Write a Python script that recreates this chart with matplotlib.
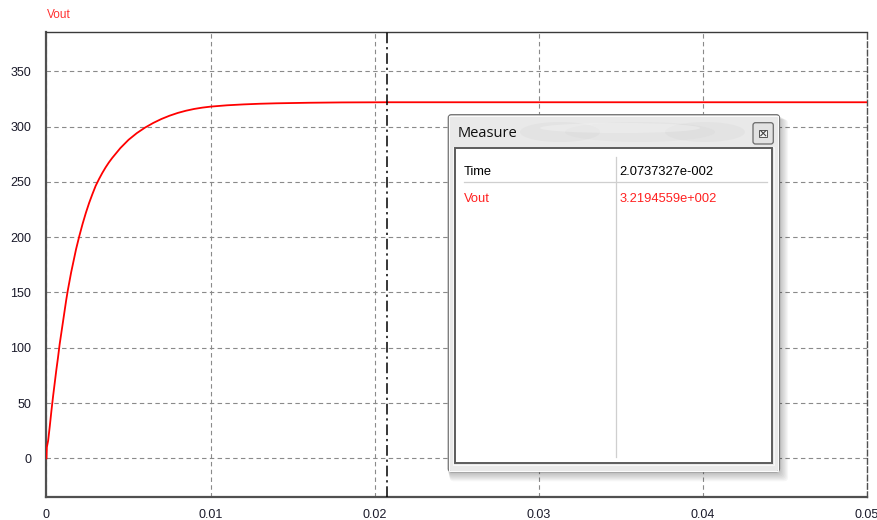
import numpy as np
import matplotlib
matplotlib.use("Agg")
import matplotlib.pyplot as plt
from matplotlib.patches import Rectangle, FancyBboxPatch, Ellipse

plt.rcParams['font.family'] = ['Liberation Sans', 'DejaVu Sans']

# Simulated output voltage (time in s, voltage in V)
time_s = [0.0, 0.00002, 0.0001, 0.0002, 0.0003, 0.0004, 0.0005, 0.0006, 0.0007,
          0.0008, 0.0009, 0.001, 0.0011, 0.0012, 0.0013, 0.0014, 0.0015,
          0.0016, 0.0017, 0.0018, 0.0019, 0.002, 0.0022, 0.0024, 0.0026,
          0.0028, 0.003, 0.0032, 0.0034, 0.0036, 0.0038, 0.004, 0.0045,
          0.005, 0.0055, 0.006, 0.0065, 0.007, 0.0075, 0.008, 0.0085,
          0.009, 0.0095, 0.01, 0.011, 0.012, 0.013, 0.014, 0.016,
          0.018, 0.02, 0.0207, 0.03, 0.04, 0.05]
vout = [0.0, 10.0, 16.0, 29.0, 43.0, 56.0, 68.0, 80.0, 91.0,
        103.0, 113.0, 123.0, 133.0, 143.0, 152.0, 160.0, 168.0,
        175.0, 182.0, 189.0, 195.0, 201.0, 212.0, 222.0, 231.0,
        239.0, 246.5, 252.5, 258.0, 263.0, 267.5, 271.5, 280.5,
        288.0, 294.0, 299.0, 303.2, 306.8, 309.8, 312.3, 314.3,
        315.9, 317.1, 318.0, 319.2, 320.0, 320.6, 321.0, 321.5,
        321.8, 321.9, 321.95, 321.95, 321.95, 321.95]

x_ticks = [0.0, 0.01, 0.02, 0.03, 0.04, 0.05]
x_tick_labels = ["0", "0.01", "0.02", "0.03", "0.04", "0.05"]
y_ticks = [0, 50, 100, 150, 200, 250, 300, 350]
y_tick_labels = ["0", "50", "100", "150", "200", "250", "300", "350"]

cursor_time = 2.0737327e-002
cursor_vout = 3.2194559e+002
measure_rows = [("Time", "2.0737327e-002", "black"),
                ("Vout", "3.2194559e+002", "#ff2020")]

W, H = 878, 520
fig = plt.figure(figsize=(W / 100, H / 100), dpi=100)
fig.patch.set_facecolor("white")

# plot area in pixels
L, T, R, B = 46.5, 32.3, 867.0, 496.7
ax = fig.add_axes([L / W, 1 - B / H, (R - L) / W, (B - T) / H])
ax.plot(time_s, vout, color="#ff0000", lw=1.3, zorder=3)
ax.axvline(cursor_time, color="black", lw=1.1, ls=(0, (7, 2.5, 1.5, 2.5)), zorder=4)

ax.set_xlim(0, 0.05)
ax.set_ylim(-34.7, 385.2)
ax.set_xticks(x_ticks)
ax.set_xticklabels(x_tick_labels)
ax.set_yticks(y_ticks)
ax.set_yticklabels(y_tick_labels)
ax.tick_params(length=0, labelsize=9, colors="#1a1a2a")
ax.tick_params(axis="x", pad=9.0)
ax.tick_params(axis="y", pad=11)
ax.grid(True, color="#8a8a8a", lw=0.8, ls=(0, (4, 3)))
for side in ("left", "bottom"):
    ax.spines[side].set_color("#505050")
    ax.spines[side].set_linewidth(1.6)
ax.spines["top"].set_color("#3a3a3a")
ax.spines["top"].set_linewidth(1.0)
ax.spines["right"].set_color("#505050")
ax.spines["right"].set_linewidth(1.0)
ax.spines["right"].set_linestyle((0, (4, 2)))

fig.text(L / W, 1 - 15 / H, "Vout", color="#ff3030", fontsize=8.5,
         ha="left", va="center")

# Measure dialog, drawn in pixel coordinates
dx0, dy0, dx1, dy1 = 436, 104, 796, 484
dax = fig.add_axes([dx0 / W, 1 - dy1 / H, (dx1 - dx0) / W, (dy1 - dy0) / H], zorder=10)
dax.set_xlim(dx0, dx1)
dax.set_ylim(dy1, dy0)
dax.axis("off")
dax.patch.set_alpha(0)

fx0, fy0, fx1, fy1 = 448.3, 114.7, 779.5, 471.7
# soft drop shadow
for k in range(1, 9):
    dax.add_patch(FancyBboxPatch((fx0 - 1 + k * 0.3, fy0 + k * 0.6),
                                 fx1 - fx0 + k * 0.9, fy1 - fy0 + k * 0.6,
                                 boxstyle="round,pad=0,rounding_size=4",
                                 facecolor="black", edgecolor="none",
                                 alpha=0.035, zorder=1))
# outer frame
dax.add_patch(FancyBboxPatch((fx0, fy0), fx1 - fx0, fy1 - fy0,
                             boxstyle="round,pad=0,rounding_size=3",
                             facecolor="#e9e9e9", edgecolor="#707070",
                             lw=0.9, zorder=2))
dax.add_patch(Rectangle((fx0 + 1.2, fy0 + 1.2), fx1 - fx0 - 2.4, fy1 - fy0 - 2.4,
                        facecolor="none", edgecolor="#fbfbfb", lw=0.8, zorder=3))
# hazy title bar glass
for cx, w, a in [(560, 80, 0.18), (640, 150, 0.14), (705, 80, 0.16)]:
    dax.add_patch(Ellipse((cx, 132), w, 20, facecolor="#c8c8c8",
                          edgecolor="none", alpha=a, zorder=3))
dax.add_patch(Ellipse((620, 128), 160, 10, facecolor="white",
                      edgecolor="none", alpha=0.25, zorder=3))

dax.text(457.5, 133, "Measure", fontsize=10.5, color="#101010",
         ha="left", va="center", family=["Open Sans", "DejaVu Sans"], zorder=5)

# close button
dax.add_patch(FancyBboxPatch((753, 122.7), 20.3, 21.3,
                             boxstyle="round,pad=0,rounding_size=2.5",
                             facecolor="#e2e2e2", edgecolor="#6a6a6a",
                             lw=0.9, zorder=4))
dax.add_patch(Rectangle((759.5, 129.5), 7.5, 7.5, facecolor="#f4f4f4",
                        edgecolor="#555555", lw=0.7, zorder=5))
dax.plot([760.8, 765.7], [130.8, 135.7], color="#444444", lw=0.8, zorder=6)
dax.plot([760.8, 765.7], [135.7, 130.8], color="#444444", lw=0.8, zorder=6)

# inner list panel
px0, py0, px1, py1 = 455.0, 148.3, 772.3, 463.3
dax.add_patch(Rectangle((px0 - 1.5, py0 - 1.5), px1 - px0 + 3, py1 - py0 + 3,
                        facecolor="none", edgecolor="#f7f7f7", lw=0.8, zorder=4))
dax.add_patch(Rectangle((px0, py0), px1 - px0, py1 - py0,
                        facecolor="white", edgecolor="#5c5c5c", lw=1.4, zorder=4))
dax.plot([615.7, 615.7], [157, 457], color="#cfcfcf", lw=0.9, zorder=5)
dax.plot([464, 767], [181.7, 181.7], color="#cfcfcf", lw=0.9, zorder=5)

row_y = [171.7, 199.0]
for (name, val, col), yy in zip(measure_rows, row_y):
    dax.text(464, yy, name, fontsize=9.3, color=col, ha="left", va="center", zorder=6)
    dax.text(619.5, yy, val, fontsize=9.3, color=col, ha="left", va="center", zorder=6)

fig.savefig("out.png", dpi=100)
